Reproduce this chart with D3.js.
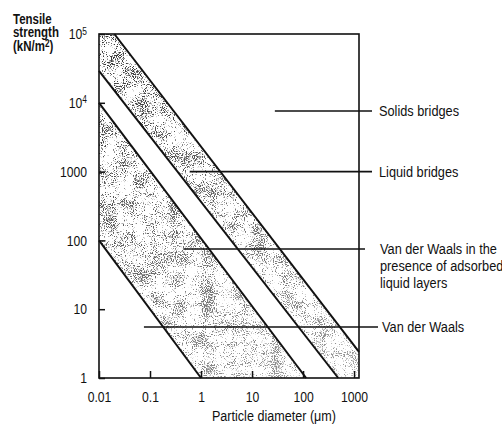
<!DOCTYPE html>
<html>
<head>
<meta charset="utf-8">
<script src="https://cdn.jsdelivr.net/npm/d3@7"></script>
<style>
  html, body { margin: 0; padding: 0; background: #fff; }
  svg { display: block; }
  text { font-family: "Liberation Sans", Arial, Helvetica, sans-serif; fill: #111; }
</style>
</head>
<body>
<svg id="chart" width="502" height="424"></svg>
<script>
// Tick values and labels (log-log axes)
const diameterTicks = [0.01, 0.1, 1, 10, 100, 1000];
const diameterLabels = ["0.01", "0.1", "1", "10", "100", "1000"];
const strengthTicks = [1, 10, 100, 1000, 1e4, 1e5];
const strengthLabels = ["1", "10", "100", "1000", "10^4", "10^5"];

// Boundary lines of the bonding mechanisms: [diameter µm, tensile strength kN/m²]
const vdwLower = [[0.01, 100], [1, 1]];
const vdwUpper = [[0.01, 1e4], [115, 1]];
const liquidLower = [[0.01, 29000], [490, 1]];
const liquidUpper = [[0.02, 1e5], [1250, 2.4]];

// Region labels with the strength level and start diameter of their leader lines
const regionLabels = [
  "Solids bridges",
  "Liquid bridges",
  "Van der Waals in the\npresence of adsorbed\nliquid layers",
  "Van der Waals"
];
const leaderStrength = [7600, 1000, 75, 5.5];
const leaderFrom = [28, 0.6, 0.45, 0.076];

const svg = d3.select("#chart");
const plot = { left: 99, right: 359, top: 34, bottom: 378 };

const x = d3.scaleLog().domain([0.01, 1250]).range([plot.left, plot.right]);
const y = d3.scaleLog().domain([1, 1e5]).range([plot.bottom, plot.top]);
const [xMin, xMax] = x.domain();
const [yMin, yMax] = y.domain();

// squeeze a text horizontally around its anchor point
function condense(sel, k = 0.84) {
  sel.each(function () {
    const t = d3.select(this);
    const ax = +t.attr("x") || 0;
    t.attr("transform", `translate(${ax},0) scale(${k},1) translate(${-ax},0)`);
  });
}

// Stipple texture for shaded bands: fine grain, lightly modulated by coarse blotches
const defs = svg.append("defs");
const grad = defs.append("linearGradient")
  .attr("id", "bandShade")
  .attr("gradientUnits", "userSpaceOnUse")
  .attr("x1", plot.left).attr("y1", plot.top)
  .attr("x2", 330).attr("y2", plot.bottom);
grad.append("stop").attr("offset", 0).attr("stop-color", "#000").attr("stop-opacity", 1);
grad.append("stop").attr("offset", 0.5).attr("stop-color", "#000").attr("stop-opacity", 0.75);
grad.append("stop").attr("offset", 1).attr("stop-color", "#000").attr("stop-opacity", 0.5);

const filt = defs.append("filter")
  .attr("id", "stipple")
  .attr("color-interpolation-filters", "sRGB");
filt.append("feTurbulence")
  .attr("type", "fractalNoise").attr("baseFrequency", 0.9)
  .attr("numOctaves", 1).attr("seed", 5).attr("result", "fine0");
filt.append("feColorMatrix")
  .attr("in", "fine0").attr("type", "matrix")
  .attr("values", "1 0 0 0 0  1 0 0 0 0  1 0 0 0 0  0 0 0 0 1")
  .attr("result", "fine");
filt.append("feTurbulence")
  .attr("type", "fractalNoise").attr("baseFrequency", 0.06)
  .attr("numOctaves", 2).attr("seed", 11).attr("result", "coarse0");
filt.append("feColorMatrix")
  .attr("in", "coarse0").attr("type", "matrix")
  .attr("values", "1 0 0 0 0  1 0 0 0 0  1 0 0 0 0  0 0 0 0 1")
  .attr("result", "coarse");
filt.append("feComposite")
  .attr("in", "fine").attr("in2", "coarse")
  .attr("operator", "arithmetic")
  .attr("k1", 0).attr("k2", 0.8).attr("k3", 0.35).attr("k4", -0.075)
  .attr("result", "mix");
filt.append("feColorMatrix")
  .attr("in", "mix").attr("type", "matrix")
  .attr("values", "0 0 0 0 0.2  0 0 0 0 0.2  0 0 0 0 0.2  -10 0 0 0 4.6")
  .attr("result", "dots");
filt.append("feComposite")
  .attr("in", "dots").attr("in2", "SourceGraphic")
  .attr("operator", "in");

const toPt = d => [x(d[0]), y(d[1])];
const area = pts => "M" + pts.map(toPt).map(p => p.join(",")).join("L") + "Z";

// Van der Waals band
const vdwBand = [vdwLower[0], vdwUpper[0], vdwUpper[1], vdwLower[1]];
// Liquid bridge band
const liquidBand = [liquidLower[0], [xMin, yMax], liquidUpper[0], liquidUpper[1], [xMax, yMin], liquidLower[1]];

svg.append("g").selectAll("path")
  .data([vdwBand, liquidBand])
  .join("path")
  .attr("d", area)
  .attr("fill", "url(#bandShade)")
  .attr("filter", "url(#stipple)");

// Boundary lines
svg.append("g").selectAll("line")
  .data([vdwLower, vdwUpper, liquidLower, liquidUpper])
  .join("line")
  .attr("x1", d => x(d[0][0])).attr("y1", d => y(d[0][1]))
  .attr("x2", d => x(d[1][0])).attr("y2", d => y(d[1][1]))
  .attr("stroke", "#111")
  .attr("stroke-width", 2);

// Plot frame
svg.append("rect")
  .attr("x", plot.left).attr("y", plot.top)
  .attr("width", plot.right - plot.left).attr("height", plot.bottom - plot.top)
  .attr("fill", "none").attr("stroke", "#111").attr("stroke-width", 1.6);

// Axes with inward ticks
const xAxis = svg.append("g")
  .attr("transform", `translate(0,${plot.bottom})`)
  .call(d3.axisBottom(x).tickValues(diameterTicks)
    .tickFormat((d, i) => diameterLabels[i])
    .tickSizeInner(-7).tickSizeOuter(0).tickPadding(14));
xAxis.select(".domain").remove();
xAxis.selectAll(".tick line").attr("stroke", "#111").attr("stroke-width", 1.5);
xAxis.selectAll("text").attr("font-size", 14.5).attr("fill", "#111").call(condense);

const yAxis = svg.append("g")
  .attr("transform", `translate(${plot.left},0)`)
  .call(d3.axisLeft(y).tickValues(strengthTicks)
    .tickFormat((d, i) => strengthLabels[i])
    .tickSizeInner(-6).tickSizeOuter(0).tickPadding(12));
yAxis.select(".domain").remove();
yAxis.selectAll(".tick line").attr("stroke", "#111").attr("stroke-width", 1.5);
yAxis.selectAll("text").attr("font-size", 14.5).attr("fill", "#111")
  .each(function () {
    const t = d3.select(this);
    const s = t.text();
    if (s.includes("^")) {
      const [base, exp] = s.split("^");
      t.text(null);
      t.append("tspan").text(base);
      t.append("tspan").attr("font-size", 10).attr("dy", "-0.45em").text(exp);
    }
  })
  .call(condense);

// Axis titles
const yTitle = svg.append("text").attr("x", 13).attr("font-size", 14).attr("font-weight", "bold");
yTitle.append("tspan").attr("x", 13).attr("y", 24).text("Tensile");
yTitle.append("tspan").attr("x", 13).attr("y", 37.5).text("strength");
yTitle.append("tspan").attr("x", 13).attr("y", 51).text("(kN/m");
yTitle.append("tspan").attr("font-size", 10).attr("dy", -4).text("2");
yTitle.append("tspan").attr("dy", 4).text(")");
yTitle.call(condense, 0.82);

svg.append("text")
  .attr("x", 274).attr("y", 421)
  .attr("text-anchor", "middle")
  .attr("font-size", 15)
  .text("Particle diameter (\u03bcm)")
  .call(condense);

// Leader lines and region labels
const labelX = [379, 379, 380, 382];
const leaderEnd = [372, 372, 365, 378];
regionLabels.forEach((label, i) => {
  const ly = y(leaderStrength[i]);
  svg.append("line")
    .attr("x1", x(leaderFrom[i])).attr("x2", leaderEnd[i])
    .attr("y1", ly).attr("y2", ly)
    .attr("stroke", "#111").attr("stroke-width", 1.6);
  const t = svg.append("text")
    .attr("x", labelX[i]).attr("y", ly)
    .attr("font-size", 15.2);
  label.split("\n").forEach((line, k) => {
    t.append("tspan")
      .attr("x", labelX[i])
      .attr("y", ly + k * 17)
      .attr("dy", "0.35em")
      .text(line);
  });
  t.call(condense);
});
</script>
</body>
</html>
